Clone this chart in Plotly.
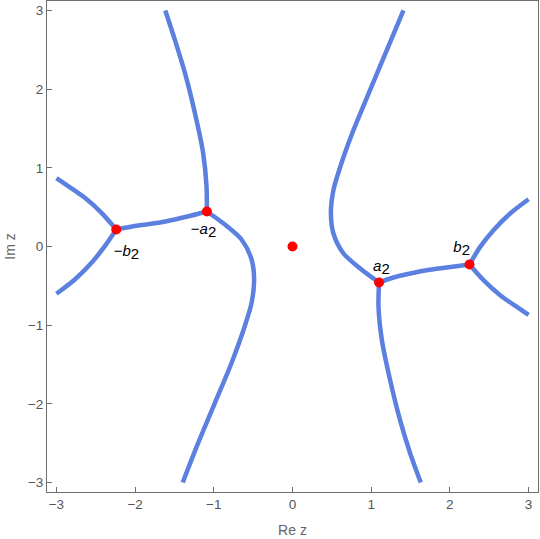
import plotly.graph_objects as go

# 곡선 데이터 (오른쪽)
upper_right_x = [1.41, 1.20, 0.987, 0.775, 0.606, 0.52, 0.488, 0.52, 0.648, 0.86, 1.10]
upper_right_y = [3.0, 2.50, 1.99, 1.48, 1.01, 0.716, 0.42, 0.165, -0.089, -0.28, -0.458]

lower_right_x = [1.10, 1.093, 1.136, 1.241, 1.368, 1.496, 1.63]
lower_right_y = [-0.458, -0.768, -1.19, -1.70, -2.21, -2.63, -3.0]

a2_b2_x = [1.10, 1.283, 1.496, 1.708, 1.962, 2.249]
a2_b2_y = [-0.458, -0.394, -0.343, -0.301, -0.267, -0.229]

b2_up_x = [2.249, 2.385, 2.554, 2.766, 3.0]
b2_up_y = [-0.229, -0.005, 0.207, 0.419, 0.60]

b2_down_x = [2.249, 2.427, 2.639, 2.851, 3.0]
b2_down_y = [-0.229, -0.428, -0.619, -0.768, -0.87]

# 곡선 데이터 (왼쪽)
upper_left_x = [-1.617, -1.496, -1.368, -1.241, -1.136, -1.093, -1.088]
upper_left_y = [3.0, 2.63, 2.21, 1.70, 1.19, 0.768, 0.445]

lower_left_x = [-1.088, -0.86, -0.648, -0.52, -0.488, -0.52, -0.606, -0.775, -0.987, -1.20, -1.395]
lower_left_y = [0.445, 0.28, 0.089, -0.165, -0.42, -0.716, -1.01, -1.48, -1.99, -2.50, -3.0]

a2_b2_left_x = [-1.088, -1.283, -1.496, -1.708, -1.962, -2.24]
a2_b2_left_y = [0.445, 0.394, 0.343, 0.301, 0.267, 0.216]

b2_up_left_x = [-2.24, -2.427, -2.639, -2.851, -3.0]
b2_up_left_y = [0.216, 0.428, 0.619, 0.768, 0.87]

b2_down_left_x = [-2.24, -2.385, -2.554, -2.766, -3.0]
b2_down_left_y = [0.216, 0.005, -0.207, -0.419, -0.60]

# 특이점
point_x = [-2.24, -1.088, 0.0, 1.10, 2.249]
point_y = [0.216, 0.445, 0.0, -0.458, -0.229]

label_x = [-2.11, -1.13, 1.13, 2.15]
label_y = [-0.07, 0.21, -0.26, -0.025]
sub2 = "<sub><span style='font-size:15px'>2</span></sub>"
label_text = ["\u2212<i>b</i>" + sub2, "\u2212<i>a</i>" + sub2,
              "<i>a</i>" + sub2, "<i>b</i>" + sub2]

curves = [
    (upper_right_x, upper_right_y), (lower_right_x, lower_right_y),
    (a2_b2_x, a2_b2_y), (b2_up_x, b2_up_y), (b2_down_x, b2_down_y),
    (upper_left_x, upper_left_y), (lower_left_x, lower_left_y),
    (a2_b2_left_x, a2_b2_left_y), (b2_up_left_x, b2_up_left_y),
    (b2_down_left_x, b2_down_left_y),
]

fig = go.Figure()

for cx, cy in curves:
    fig.add_trace(go.Scatter(
        x=cx, y=cy, mode='lines',
        line=dict(color='#5b80e0', width=4.5, shape='spline', smoothing=0.8),
        hoverinfo='skip', showlegend=False
    ))

fig.add_trace(go.Scatter(
    x=point_x, y=point_y, mode='markers',
    marker=dict(color='#ff0000', size=10),
    showlegend=False
))

fig.add_trace(go.Scatter(
    x=label_x, y=label_y, mode='text', text=label_text,
    textfont=dict(family='Liberation Sans, Arial', size=15, color='black'),
    showlegend=False
))

axis_style = dict(
    range=[-3.12, 3.12],
    showgrid=False, zeroline=False,
    showline=True, mirror=True, linecolor='#6e6e6e', linewidth=1,
    ticks='inside', ticklen=5, tickcolor='#6e6e6e',
    tickvals=[-3, -2, -1, 0, 1, 2, 3],
    tickfont=dict(family='Liberation Sans, Arial', size=13.5, color='#555555'),
)

fig.update_layout(
    width=540, height=539,
    margin=dict(l=47, r=2, t=1, b=47, autoexpand=False),
    plot_bgcolor='white', paper_bgcolor='white',
    xaxis=dict(axis_style, title=dict(text='Re z', standoff=13,
               font=dict(family='Liberation Sans, Arial', size=14, color='#666666'))),
    yaxis=dict(axis_style, title=dict(text='Im z', standoff=8,
               font=dict(family='Liberation Sans, Arial', size=14, color='#666666'))),
)

# 페이지 기본 여백 제거
fig.write_html("out.html", config={'displayModeBar': False},
               post_script="document.body.style.margin='0';")
